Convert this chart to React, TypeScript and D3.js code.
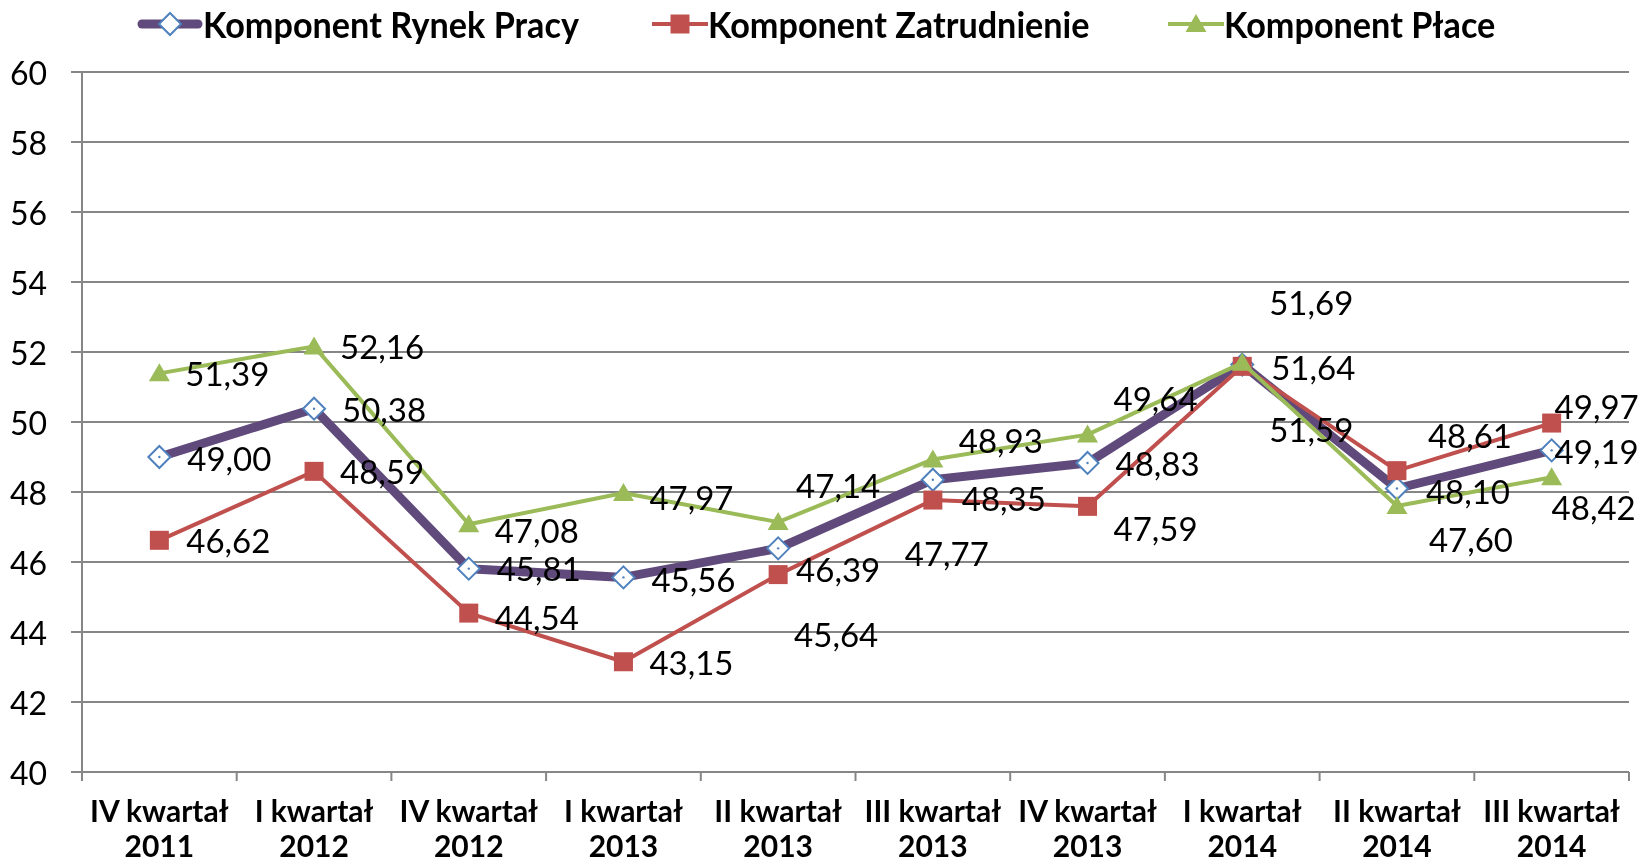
import { useRef, useEffect } from "react";
import * as d3 from "d3";

const categories = [
  "IV kwartał 2011",
  "I kwartał 2012",
  "IV kwartał 2012",
  "I kwartał 2013",
  "II kwartał 2013",
  "III kwartał 2013",
  "IV kwartał 2013",
  "I kwartał 2014",
  "II kwartał 2014",
  "III kwartał 2014",
];

const rynekPracy = [49.0, 50.38, 45.81, 45.56, 46.39, 48.35, 48.83, 51.64, 48.1, 49.19];
const zatrudnienie = [46.62, 48.59, 44.54, 43.15, 45.64, 47.77, 47.59, 51.59, 48.61, 49.97];
const place = [51.39, 52.16, 47.08, 47.97, 47.14, 48.93, 49.64, 51.69, 47.6, 48.42];

const yTicks = [40, 42, 44, 46, 48, 50, 52, 54, 56, 58, 60];

// label shifts relative to the point (px), as placed in the original
const shiftRynek = [[70, 1], [70, 0], [70, -1], [70, 2], [60, 21], [71, 18], [70, 0], [71, 2], [71, 2], [45, 1]];
const shiftZatr = [[69, 0], [68, 0], [68, 4], [68, 0], [58, 59], [14, 53], [68, 22], [69, 63], [73, -36], [45, -17]];
const shiftPlace = [[68, 0], [68, 0], [68, 6], [68, 4], [60, -37], [68, -19], [68, -37], [69, -61], [74, 33], [42, 30]];

const fmt = (v: number) => d3.format(".2f")(v).replace(".", ",");

export default function App() {
  const ref = useRef<HTMLDivElement>(null);

  useEffect(() => {
    const width = 1643;
    const height = 864;
    const margin = { top: 72, right: 14, bottom: 92, left: 82 };

    d3.select(ref.current).selectAll("*").remove();

    const svg = d3
      .select(ref.current)
      .append("svg")
      .attr("width", width)
      .attr("height", height)
      .style("display", "block")
      .style("font-family", "Lato, 'Open Sans', sans-serif");

    // ---- Scales ----
    const x = d3
      .scaleBand()
      .domain(categories)
      .range([margin.left, width - margin.right]);

    const y = d3
      .scaleLinear()
      .domain([40, 60])
      .range([height - margin.bottom, margin.top]);

    const cx = (i: number) => (x(categories[i]) as number) + x.bandwidth() / 2;
    const grey = "#868686";
    const y0 = y(40);

    // ---- Grid ----
    svg.append("g")
      .selectAll("line")
      .data(yTicks)
      .enter()
      .append("line")
      .attr("x1", margin.left - 11)
      .attr("x2", width - margin.right)
      .attr("y1", (d) => y(d))
      .attr("y2", (d) => y(d))
      .attr("stroke", grey)
      .attr("stroke-width", 2);

    // ---- Axes ----
    svg.append("line")
      .attr("x1", margin.left)
      .attr("x2", margin.left)
      .attr("y1", y(60))
      .attr("y2", y0 + 9)
      .attr("stroke", grey)
      .attr("stroke-width", 2);

    svg.append("g")
      .selectAll("line")
      .data(d3.range(categories.length + 1))
      .enter()
      .append("line")
      .attr("x1", (i) => margin.left + i * x.step())
      .attr("x2", (i) => margin.left + i * x.step())
      .attr("y1", y0)
      .attr("y2", y0 + 9)
      .attr("stroke", grey)
      .attr("stroke-width", 2);

    svg.append("g")
      .selectAll("text")
      .data(yTicks)
      .enter()
      .append("text")
      .attr("x", 47)
      .attr("y", (d) => y(d))
      .attr("text-anchor", "end")
      .attr("dominant-baseline", "central")
      .attr("font-size", 32)
      .attr("fill", "#000")
      .text((d) => d);

    // category labels, two lines each
    const splitAt = (d: string) => d.lastIndexOf(" ");
    const xl = svg.append("g");
    [
      { y: 822, part: (d: string) => d.slice(0, splitAt(d)) },
      { y: 857, part: (d: string) => d.slice(splitAt(d) + 1) },
    ].forEach((row) => {
      xl.append("g")
        .selectAll("text")
        .data(categories)
        .enter()
        .append("text")
        .attr("x", (d, i) => cx(i))
        .attr("y", row.y)
        .attr("text-anchor", "middle")
        .attr("font-size", 30)
        .attr("font-weight", "bold")
        .attr("fill", "#000")
        .text((d) => row.part(d));
    });

    // ---- Markers ----
    const diamond = "M0,-11L11,0L0,11L-11,0Z";
    const square = "M-9.5,-9.5H9.5V9.5H-9.5Z";
    const triangle = "M0,-10L10.5,8L-10.5,8Z";

    const series = [
      { name: "Komponent Rynek Pracy", values: rynekPracy, shift: shiftRynek, color: "#604A7B", lw: 9, marker: diamond, fill: "#fff", stroke: "#4F81BD", legendX: 142, textX: 203 },
      { name: "Komponent Zatrudnienie", values: zatrudnienie, shift: shiftZatr, color: "#C0504D", lw: 4, marker: square, fill: "#C0504D", stroke: "none", legendX: 652, textX: 708 },
      { name: "Komponent Płace", values: place, shift: shiftPlace, color: "#9BBB59", lw: 4, marker: triangle, fill: "#9BBB59", stroke: "none", legendX: 1168, textX: 1224 },
    ];

    const line = d3
      .line<number>()
      .x((d, i) => cx(i))
      .y((d) => y(d));

    series.forEach((s) => {
      const g = svg.append("g");
      g.append("path")
        .attr("d", line(s.values))
        .attr("fill", "none")
        .attr("stroke", s.color)
        .attr("stroke-width", s.lw)
        .attr("stroke-linejoin", "round");
      g.selectAll("path.m")
        .data(s.values)
        .enter()
        .append("path")
        .attr("class", "m")
        .attr("d", s.marker)
        .attr("transform", (d, i) => `translate(${cx(i)},${y(d)})`)
        .attr("fill", s.fill)
        .attr("stroke", s.stroke)
        .attr("stroke-width", 2);
      if (s.marker === diamond) {
        g.selectAll("circle")
          .data(s.values)
          .enter()
          .append("circle")
          .attr("cx", (d, i) => cx(i))
          .attr("cy", (d) => y(d))
          .attr("r", 1.2)
          .attr("fill", s.stroke);
      }
    });

    // ---- Data labels ----
    series.forEach((s) => {
      svg.append("g")
        .selectAll("text")
        .data(s.values)
        .enter()
        .append("text")
        .attr("x", (d, i) => cx(i) + s.shift[i][0])
        .attr("y", (d, i) => y(d) + s.shift[i][1])
        .attr("text-anchor", "middle")
        .attr("dominant-baseline", "central")
        .attr("font-size", 33)
        .attr("fill", "#000")
        .text((d) => fmt(d));
    });

    // ---- Legend ----
    const leg = svg.append("g");
    series.forEach((s) => {
      const ly = 24;
      leg.append("line")
        .attr("x1", s.legendX)
        .attr("x2", s.legendX + 56)
        .attr("y1", ly)
        .attr("y2", ly)
        .attr("stroke", s.color)
        .attr("stroke-width", s.lw)
        .attr("stroke-linecap", s.marker === diamond ? "round" : "butt");
      leg.append("path")
        .attr("d", s.marker)
        .attr("transform", `translate(${s.legendX + 28},${ly})`)
        .attr("fill", s.fill)
        .attr("stroke", s.stroke)
        .attr("stroke-width", 2);
      leg.append("text")
        .attr("transform", `translate(${s.textX},${ly}) scale(0.95,1)`)
        .attr("dominant-baseline", "central")
        .attr("font-size", 36)
        .attr("font-weight", "bold")
        .attr("fill", "#000")
        .text(s.name);
    });
  }, []);

  return <div ref={ref} style={{ position: "fixed", left: 0, top: 0 }} />;
}
